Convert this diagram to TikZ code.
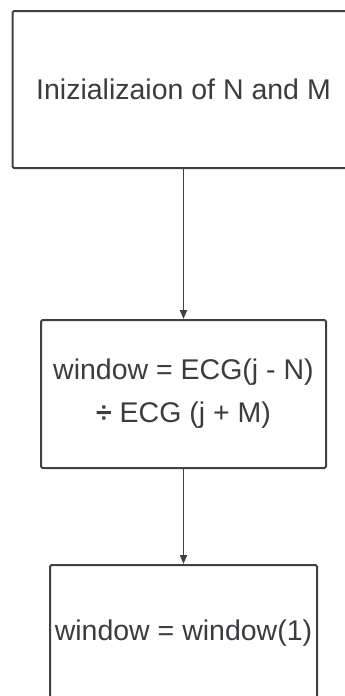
\documentclass[tikz,border=0pt]{standalone}
\usepackage{fontspec}
\setmainfont{Liberation Sans}
\usetikzlibrary{arrows.meta}

\definecolor{ink}{HTML}{3E4044}
\definecolor{txt}{HTML}{3A3C40}

\begin{document}
\begin{tikzpicture}[
    x=1pt, y=-1pt,
    every node/.style={text=txt, font=\fontsize{28.5}{43}\selectfont},
    stepbox/.style={draw=ink, line width=2pt, rounded corners=1.5pt, inner sep=0pt, align=center},
    flow/.style={draw=ink, line width=1.8pt, -{Triangle[length=9pt, width=7pt]}}
]

    % --- Frame (page size) ---
    \useasboundingbox (0,0) rectangle (345,696);
    \clip (0,0) rectangle (345,696);

    % --- Boxes ---
    \node[stepbox, minimum width=342pt, minimum height=157pt] (init) at (183.5, 89.5) {Inizializaion of N and M};
    \node[stepbox, minimum width=285pt, minimum height=148pt] (ratio) at (183.5, 394) {window = ECG(j - N)\\ {\bfseries ÷} ECG (j + M)};
    \node[stepbox, minimum width=267pt, minimum height=136pt] (pick) at (183.5, 633) {window = window(1)};

    % --- Arrows ---
    \draw[flow] (init.south) -- (ratio.north);
    \draw[flow] (ratio.south) -- (pick.north);

\end{tikzpicture}
\end{document}
